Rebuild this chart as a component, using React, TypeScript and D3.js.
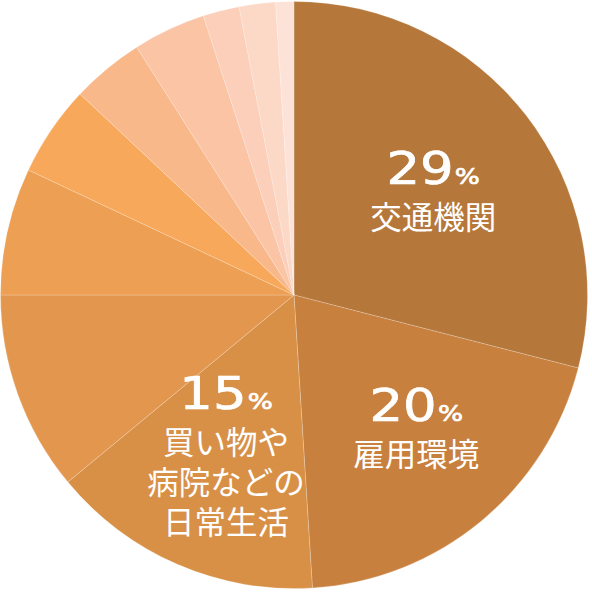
import React from "react";
import * as d3 from "d3";

const categories = [
  "交通機関",
  "雇用環境",
  "買い物や病院などの日常生活",
  "項目4",
  "項目5",
  "項目6",
  "項目7",
  "項目8",
  "項目9",
  "項目10",
  "項目11",
];
const values = [29, 20, 15, 11, 7, 5, 4, 4, 2, 2, 1];
const colors = [
  "#B5773A",
  "#C8803E",
  "#D89047",
  "#E3964E",
  "#EDA054",
  "#F8A85A",
  "#F9B88A",
  "#FAC4A5",
  "#FBCFB9",
  "#FCD8C7",
  "#FDE3D7",
];
const labelLines: string[][] = [
  ["交通機関"],
  ["雇用環境"],
  ["買い物や", "病院などの", "日常生活"],
];

const W = 592;
const H = 592;
const CX = 294;
const CY = 295;
const R = 293.5;

export default function App() {
  const data = categories.map((c, i) => ({ name: c, value: values[i], color: colors[i] }));
  const pie = d3.pie<any>().value((d) => d.value).sort(null);
  const arcs = pie(data);
  const arc = d3.arc<any>().innerRadius(0).outerRadius(R);
  const labelArc = d3.arc<any>().innerRadius(R * 0.2).outerRadius(R);
  const nudges = [[0, 4], [10, -2], [2, 0]];

  return (
    <svg width={W} height={H} style={{ position: "absolute", left: 0, top: 0 }}>
      <g transform={`translate(${CX},${CY})`}>
        {arcs.map((a, i) => (
          <path key={i} d={arc(a) || ""} fill={a.data.color} stroke="rgba(255,255,255,0.35)" strokeWidth={0.6} />
        ))}
        {labelLines.map((lines, i) => {
          const [x0, y0] = labelArc.centroid(arcs[i]);
          const x = x0 + nudges[i][0];
          const b = y0 + nudges[i][1] - (15 + 40 * (lines.length - 1)) / 2;
          return (
            <g key={i} fill="#fff">
              <g transform={`translate(${x},${b}) scale(1.2,1)`}>
                <text
                  x={0}
                  y={0}
                  textAnchor="middle"
                  fontFamily="'DejaVu Sans', sans-serif"
                  fontSize={44}
                  stroke="#fff"
                  strokeWidth={0.7}
                >
                  <tspan>{values[i]}</tspan>
                  <tspan fontSize={22} dx={1}>%</tspan>
                </text>
              </g>
              <text
                x={x}
                y={b + 45}
                textAnchor="middle"
                fontFamily="'Noto Sans CJK JP', sans-serif"
                fontSize={31.5}
              >
                {lines.map((l, j) => (
                  <tspan key={j} x={x} dy={j === 0 ? 0 : 40}>
                    {l}
                  </tspan>
                ))}
              </text>
            </g>
          );
        })}
      </g>
    </svg>
  );
}
